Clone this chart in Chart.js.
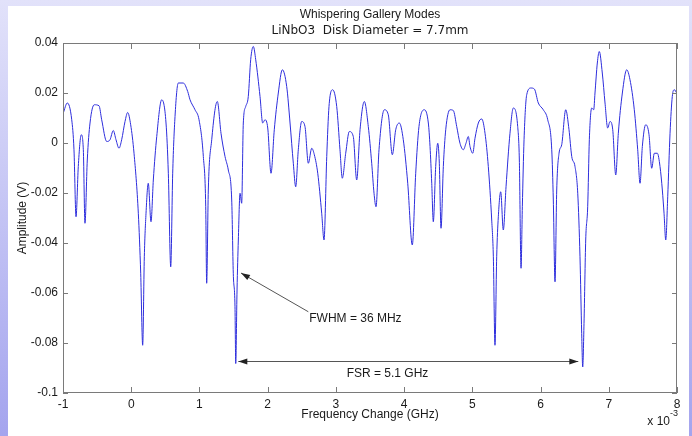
<!DOCTYPE html>
<html>
<head>
<meta charset="utf-8">
<script src="https://cdn.jsdelivr.net/npm/chart.js@4.4.1/dist/chart.umd.min.js"></script>
<style>
  html, body { margin: 0; padding: 0; }
  body {
    width: 692px; height: 436px; overflow: hidden; position: relative;
    background: linear-gradient(#e2e2fa, #a4a4ee);
  }
  #panel { position: absolute; left: 8px; top: 6px; width: 681px; height: 430px; background: #fff; }
  canvas { position: absolute; left: 0; top: 0; }
</style>
</head>
<body>
<div id="panel"></div>
<canvas id="wgm" width="692" height="436"></canvas>
<script>
// frequency change (x 10^-3 GHz) and amplitude (V)
const freq = [
  -0.996, -0.937, -0.872, -0.839, -0.809, -0.776, -0.732, -0.702, -0.678, -0.644,
  -0.604, -0.541, -0.472, -0.433, -0.359, -0.311, -0.263, -0.223, -0.179, -0.140,
  -0.091, -0.052, -0.008, 0.041, 0.104, 0.139, 0.168, 0.192, 0.217, 0.250,
  0.290, 0.324, 0.374, 0.447, 0.510, 0.544, 0.579, 0.608, 0.642, 0.690,
  0.763, 0.828, 0.862, 0.935, 0.994, 1.057, 1.092, 1.106, 1.130, 1.180,
  1.262, 1.316, 1.375, 1.423, 1.473, 1.496, 1.521, 1.532, 1.551, 1.570,
  1.595, 1.619, 1.643, 1.678, 1.716, 1.751, 1.790, 1.825, 1.888, 1.927,
  1.961, 2.001, 2.049, 2.097, 2.156, 2.215, 2.279, 2.328, 2.376, 2.411,
  2.449, 2.499, 2.547, 2.596, 2.646, 2.684, 2.734, 2.792, 2.826, 2.866,
  2.899, 2.953, 3.012, 3.060, 3.094, 3.144, 3.197, 3.255, 3.305, 3.354,
  3.417, 3.475, 3.525, 3.559, 3.588, 3.632, 3.710, 3.768, 3.827, 3.877,
  3.930, 3.988, 4.053, 4.120, 4.170, 4.218, 4.296, 4.355, 4.380, 4.405,
  4.428, 4.463, 4.493, 4.516, 4.541, 4.575, 4.610, 4.673, 4.721, 4.771,
  4.819, 4.868, 4.907, 4.941, 4.966, 5.006, 5.039, 5.088, 5.138, 5.186,
  5.234, 5.284, 5.308, 5.332, 5.357, 5.381, 5.416, 5.454, 5.494, 5.552,
  5.601, 5.665, 5.689, 5.714, 5.733, 5.758, 5.797, 5.860, 5.909, 5.967,
  6.040, 6.105, 6.164, 6.187, 6.212, 6.237, 6.271, 6.310, 6.369, 6.417,
  6.457, 6.505, 6.545, 6.578, 6.603, 6.618, 6.637, 6.662, 6.691, 6.715,
  6.750, 6.779, 6.798, 6.832, 6.861, 6.905, 6.945, 6.984, 7.018, 7.058,
  7.102, 7.140, 7.199, 7.263, 7.311, 7.374, 7.424, 7.458, 7.492, 7.541,
  7.590, 7.629, 7.668, 7.712, 7.751, 7.785, 7.810, 7.835, 7.864, 7.898,
  7.931, 7.961, 7.996
];
const amp = [
  0.0120, 0.0160, 0.0093, -0.0027, -0.0295, -0.0094, 0.0033, -0.0027, -0.0321, -0.0068,
  0.0080, 0.0153, 0.0149, 0.0093, 0.0006, 0.0013, 0.0050, 0.0013, -0.0021, 0.0013,
  0.0086, 0.0122, 0.0073, -0.0041, -0.0281, -0.0521, -0.0809, -0.0455, -0.0281, -0.0161,
  -0.0315, -0.0148, 0.0026, 0.0173, 0.0080, -0.0121, -0.0495, -0.0121, 0.0106, 0.0240,
  0.0240, 0.0206, 0.0173, 0.0133, 0.0093, -0.0054, -0.0255, -0.0561, -0.0188, 0.0013,
  0.0166, 0.0039, -0.0054, -0.0108, -0.0228, -0.0521, -0.0655, -0.0882, -0.0588, -0.0388,
  -0.0201, -0.0241, 0.0080, 0.0146, 0.0186, 0.0333, 0.0386, 0.0333, 0.0186, 0.0080,
  0.0093, 0.0060, -0.0121, 0.0053, 0.0200, 0.0293, 0.0226, 0.0080, -0.0081, -0.0175,
  -0.0027, 0.0086, 0.0066, -0.0081, -0.0021, -0.0047, -0.0121, -0.0281, -0.0388, -0.0054,
  0.0146, 0.0213, 0.0146, -0.0027, -0.0141, -0.0041, 0.0046, 0.0026, -0.0148, 0.0053,
  0.0166, 0.0066, -0.0081, -0.0201, -0.0255, -0.0027, 0.0133, 0.0113, -0.0047, 0.0053,
  0.0080, 0.0013, -0.0161, -0.0408, -0.0121, 0.0066, 0.0133, 0.0080, -0.0014, -0.0161,
  -0.0315, -0.0094, -0.0001, -0.0081, -0.0341, -0.0094, 0.0053, 0.0133, 0.0130, 0.0066,
  -0.0001, -0.0027, -0.0001, 0.0026, -0.0014, -0.0041, 0.0019, 0.0080, 0.0096, 0.0039,
  -0.0094, -0.0308, -0.0455, -0.0809, -0.0455, -0.0295, -0.0195, -0.0348, -0.0175, 0.0039,
  0.0140, 0.0066, -0.0068, -0.0501, -0.0255, 0.0013, 0.0193, 0.0220, 0.0216, 0.0160,
  0.0133, 0.0093, -0.0027, -0.0228, -0.0555, -0.0188, -0.0041, -0.0007, 0.0133, 0.0053,
  -0.0054, -0.0094, -0.0201, -0.0455, -0.0762, -0.0896, -0.0722, -0.0388, -0.0255, 0.0013,
  0.0140, 0.0133, 0.0200, 0.0320, 0.0366, 0.0280, 0.0160, 0.0060, 0.0086, 0.0053,
  -0.0128, 0.0039, 0.0200, 0.0293, 0.0253, 0.0133, -0.0027, -0.0161, -0.0014, 0.0073,
  0.0033, -0.0101, -0.0041, -0.0041, -0.0094, -0.0188, -0.0281, -0.0388, -0.0215, 0.0039,
  0.0186, 0.0213, 0.0200
];

const xTicks = [-1, 0, 1, 2, 3, 4, 5, 6, 7, 8];
const xTickLabels = ['-1', '0', '1', '2', '3', '4', '5', '6', '7', '8'];
const yTicks = [-0.1, -0.08, -0.06, -0.04, -0.02, 0, 0.02, 0.04];
const yTickLabels = ['-0.1', '-0.08', '-0.06', '-0.04', '-0.02', '0', '0.02', '0.04'];

const titleLines = ['Whispering Gallery Modes', 'LiNbO3  Disk Diameter = 7.7mm'];

// annotations, in data units
const fwhmLabel = { x: 2.61, y: -0.0704, text: 'FWHM = 36 MHz' };
const fwhmArrow = { x1: 2.596, y1: -0.0675, x2: 1.609, y2: -0.052 };
const fsrLabel = { x: 3.158, y: -0.0922, text: 'FSR = 5.1 GHz' };
const fsrArrow = { x1: 1.570, x2: 6.553, y: -0.0871 };

const axisGray = '#7a7a7a';
const textColor = '#1a1a1a';
const sans = 'Arial, "Liberation Sans", sans-serif';

function arrowHead(ctx, fx, fy, tx, ty) {
  const ang = Math.atan2(ty - fy, tx - fx);
  const len = 9, half = 3;
  ctx.beginPath();
  ctx.moveTo(tx, ty);
  ctx.lineTo(tx - len * Math.cos(ang) + half * Math.sin(ang), ty - len * Math.sin(ang) - half * Math.cos(ang));
  ctx.lineTo(tx - len * Math.cos(ang) - half * Math.sin(ang), ty - len * Math.sin(ang) + half * Math.cos(ang));
  ctx.closePath();
  ctx.fill();
}

const matlabFrame = {
  id: 'matlabFrame',
  afterDatasetsDraw(chart) {
    const { ctx, chartArea: a, scales: { x, y } } = chart;
    ctx.save();
    ctx.strokeStyle = axisGray;
    ctx.lineWidth = 1;
    ctx.strokeRect(a.left + 0.5, a.top + 0.5, a.right - a.left - 1, a.bottom - a.top - 1);
    ctx.beginPath();
    xTicks.forEach(v => {
      const px = Math.round(x.getPixelForValue(v)) + 0.5;
      ctx.moveTo(px, a.bottom); ctx.lineTo(px, a.bottom - 6);
      ctx.moveTo(px, a.top); ctx.lineTo(px, a.top + 6);
    });
    yTicks.forEach(v => {
      const py = Math.round(y.getPixelForValue(v)) + 0.5;
      ctx.moveTo(a.left, py); ctx.lineTo(a.left + 5, py);
      ctx.moveTo(a.right, py); ctx.lineTo(a.right - 5, py);
    });
    ctx.stroke();

    // titles
    const cx = (a.left + a.right) / 2;
    ctx.fillStyle = textColor;
    ctx.textAlign = 'center';
    ctx.textBaseline = 'middle';
    ctx.font = '12px ' + sans;
    ctx.fillText(titleLines[0], cx, 15);
    ctx.font = '12px "DejaVu Sans", sans-serif';
    ctx.fillText(titleLines[1], cx, 31);

    // exponent
    ctx.font = '12px ' + sans;
    ctx.textAlign = 'right';
    ctx.fillText('x 10', a.right - 7, 422);
    ctx.font = '9px ' + sans;
    ctx.textAlign = 'left';
    ctx.fillText('-3', a.right - 7, 414);

    // annotations
    ctx.strokeStyle = '#555';
    ctx.fillStyle = '#222';
    const fx1 = x.getPixelForValue(fwhmArrow.x1), fy1 = y.getPixelForValue(fwhmArrow.y1);
    const fx2 = x.getPixelForValue(fwhmArrow.x2), fy2 = y.getPixelForValue(fwhmArrow.y2);
    ctx.beginPath(); ctx.moveTo(fx1, fy1); ctx.lineTo(fx2, fy2); ctx.stroke();
    arrowHead(ctx, fx1, fy1, fx2, fy2);

    const sy = Math.round(y.getPixelForValue(fsrArrow.y)) + 0.5;
    const sx1 = x.getPixelForValue(fsrArrow.x1), sx2 = x.getPixelForValue(fsrArrow.x2);
    ctx.beginPath(); ctx.moveTo(sx1, sy); ctx.lineTo(sx2, sy); ctx.stroke();
    arrowHead(ctx, sx2, sy, sx1, sy);
    arrowHead(ctx, sx1, sy, sx2, sy);

    ctx.fillStyle = textColor;
    ctx.font = '12px ' + sans;
    ctx.textAlign = 'left';
    ctx.textBaseline = 'middle';
    ctx.fillText(fwhmLabel.text, x.getPixelForValue(fwhmLabel.x), y.getPixelForValue(fwhmLabel.y));
    ctx.fillText(fsrLabel.text, x.getPixelForValue(fsrLabel.x), y.getPixelForValue(fsrLabel.y));
    ctx.restore();
  }
};

new Chart(document.getElementById('wgm'), {
  type: 'line',
  data: {
    datasets: [{
      data: freq.map((f, i) => ({ x: f, y: amp[i] })),
      borderColor: 'rgb(45, 45, 220)',
      borderWidth: 1,
      pointRadius: 0,
      cubicInterpolationMode: 'monotone',
      fill: false
    }]
  },
  options: {
    responsive: false,
    animation: false,
    devicePixelRatio: 1,
    layout: { padding: { left: 8, right: 15, top: 43, bottom: 0 } },
    scales: {
      x: {
        type: 'linear',
        min: -1,
        max: 8,
        afterBuildTicks: s => { s.ticks = xTicks.map(v => ({ value: v })); },
        afterFit: s => { s.height = 43; },
        grid: { drawOnChartArea: false, drawTicks: false },
        border: { display: false },
        ticks: {
          padding: 4,
          color: textColor,
          font: { family: sans, size: 12 },
          maxRotation: 0,
          autoSkip: false,
          callback: (v, i) => xTickLabels[i]
        },
        title: {
          display: true,
          text: 'Frequency Change (GHz)',
          color: textColor,
          font: { family: sans, size: 12 },
          padding: { top: 0, bottom: 14 }
        }
      },
      y: {
        type: 'linear',
        min: -0.1,
        max: 0.04,
        afterBuildTicks: s => { s.ticks = yTicks.map(v => ({ value: v })); },
        afterFit: s => { s.width = 55; },
        grid: { drawOnChartArea: false, drawTicks: false },
        border: { display: false },
        ticks: {
          padding: 5,
          color: textColor,
          font: { family: sans, size: 12 },
          autoSkip: false,
          callback: (v, i) => yTickLabels[i]
        },
        title: {
          display: true,
          text: 'Amplitude (V)',
          color: textColor,
          font: { family: sans, size: 12 },
          padding: { top: 7, bottom: 0 }
        }
      }
    },
    plugins: {
      legend: { display: false },
      tooltip: { enabled: false },
      title: { display: false }
    }
  },
  plugins: [matlabFrame]
});
</script>
</body>
</html>
